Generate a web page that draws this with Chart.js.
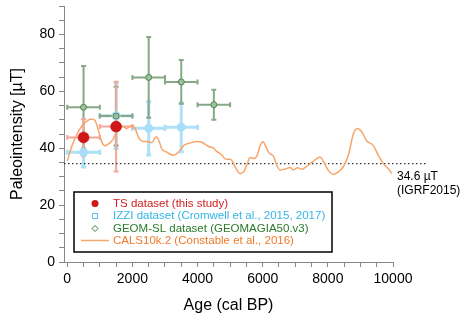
<!DOCTYPE html>
<html>
<head>
<meta charset="utf-8">
<script src="https://cdn.jsdelivr.net/npm/chart.js@4.4.1/dist/chart.umd.min.js"></script>
<style>
  html, body { margin: 0; padding: 0; background: #fff; }
  #wrap { width: 461px; height: 317px; position: relative; }
</style>
</head>
<body>
<div id="wrap"><canvas id="paleoChart"></canvas></div>
<script>
// --- data ---
var xTicksLabelled = [0, 2000, 4000, 6000, 8000, 10000];
var xMinorStep = 500;
var yTicksLabelled = [0, 20, 40, 60, 80];

// TS dataset (this study)
var tsAge = [500, 1500];
var tsF = [43.8, 47.6];
var tsAgeErr = [500, 500];
var tsFErr = [6.5, 15.8];

// IZZI dataset
var izziAge = [500, 1500, 2500, 3500];
var izziF = [38.6, 51.4, 47.0, 47.4];
var izziAgeErr = [500, 500, 500, 500];
var izziFErr = [5.2, 11.5, 9.4, 8.6];

// GEOM-SL dataset
var geomAge = [500, 1500, 2500, 3500, 4500];
var geomF = [54.4, 51.3, 64.9, 63.3, 55.3];
var geomAgeErr = [500, 500, 500, 500, 500];
var geomFErr = [14.5, 10.3, 14.2, 7.7, 5.3];

// CALS10k.2 model curve
var calsAge = [0, 150, 300, 450, 600, 750, 850, 950, 1050, 1150, 1300, 1430, 1530, 1650, 1750, 1830, 1910, 2010,
  2090, 2190, 2320, 2460, 2600, 2730, 2810, 2900, 3060, 3260, 3410, 3570, 3770, 3980, 4130, 4330, 4490, 4590,
  4740, 4870, 5000, 5080, 5180, 5300, 5410, 5510, 5610, 5720, 5820, 5920, 6010, 6100, 6200, 6330, 6430, 6530,
  6690, 6840, 6940, 7070, 7200, 7350, 7550, 7760, 7860, 8010, 8170, 8320, 8470, 8630, 8780, 8900, 9040, 9190,
  9400, 9550, 9700, 9850, 9960];
var calsF = [35.5, 41.0, 45.0, 47.8, 49.5, 50.3, 49.8, 46.5, 42.5, 40.9, 41.8, 43.6, 46.5, 47.8, 47.4, 46.9, 47.6, 48.0,
  46.7, 43.8, 42.4, 42.4, 42.0, 44.0, 42.8, 39.8, 38.6, 37.5, 38.6, 40.9, 41.8, 42.4, 42.1, 40.7, 40.0, 38.9,
  37.7, 36.1, 36.1, 35.2, 32.9, 31.1, 31.6, 34.0, 36.7, 36.4, 37.2, 40.9, 42.3, 40.5, 38.2, 37.2, 34.0, 32.3,
  32.7, 33.2, 32.4, 33.1, 32.6, 33.6, 35.4, 36.9, 35.4, 32.3, 30.8, 31.7, 33.4, 37.5, 44.9, 46.9, 45.8, 42.6,
  40.9, 37.5, 34.6, 32.9, 31.1];

// IGRF2015 reference value
var igrfValue = 34.6;
var igrfAge = [-100, 11050];

var legendLabels = [
  "TS dataset (this study)",
  "IZZI dataset (Cromwell et al., 2015, 2017)",
  "GEOM-SL dataset (GEOMAGIA50.v3)",
  "CALS10k.2 (Constable et al., 2016)"
];

var FONT = "'Liberation Sans', Arial, Helvetica, sans-serif";

function toPoints(xs, ys) {
  return xs.map(function (x, i) { return { x: x, y: ys[i] }; });
}

// error bars drawn under the markers
var errorBarsPlugin = {
  id: "errorBars",
  beforeDatasetsDraw: function (chart) {
    var ctx = chart.ctx;
    var xs = chart.scales.x, ys = chart.scales.y;
    var cap = 2.5;
    chart.data.datasets.slice().reverse().forEach(function (ds) {
      if (!ds.errAge) return;
      ctx.save();
      ctx.strokeStyle = ds.barColor;
      ctx.lineWidth = ds.barWidth;
      ds.data.forEach(function (p, i) {
        var x0 = xs.getPixelForValue(p.x - ds.errAge[i]);
        var x1 = xs.getPixelForValue(p.x + ds.errAge[i]);
        var y0 = ys.getPixelForValue(p.y - ds.errF[i]);
        var y1 = ys.getPixelForValue(p.y + ds.errF[i]);
        var px = xs.getPixelForValue(p.x), py = ys.getPixelForValue(p.y);
        ctx.beginPath();
        ctx.moveTo(x0, py); ctx.lineTo(x1, py);
        ctx.moveTo(x0, py - cap); ctx.lineTo(x0, py + cap);
        ctx.moveTo(x1, py - cap); ctx.lineTo(x1, py + cap);
        ctx.moveTo(px, y0); ctx.lineTo(px, y1);
        ctx.moveTo(px - cap, y0); ctx.lineTo(px + cap, y0);
        ctx.moveTo(px - cap, y1); ctx.lineTo(px + cap, y1);
        ctx.stroke();
      });
      ctx.restore();
    });
  }
};

// boxed legend + IGRF annotation
var annotatePlugin = {
  id: "annotate",
  afterDraw: function (chart) {
    var ctx = chart.ctx;
    var ys = chart.scales.y;
    ctx.save();

    // IGRF label on the right
    var ly = ys.getPixelForValue(igrfValue);
    ctx.fillStyle = "#000";
    ctx.font = "12px " + FONT;
    ctx.textBaseline = "middle";
    ctx.textAlign = "left";
    ctx.fillText("34.6 \u00b5T", 397, ly + 13);
    ctx.fillText("(IGRF2015)", 397, ly + 27);

    // legend box
    ctx.strokeStyle = "#000";
    ctx.lineWidth = 1.5;
    ctx.strokeRect(74, 192, 258, 60);

    var colors = ["#d02020", "#33b5e5", "#2a7a2a", "#f07a2a"];
    var rowY = [203.5, 216, 228.5, 240.5];
    ctx.font = "11.5px " + FONT;
    legendLabels.forEach(function (label, i) {
      ctx.fillStyle = colors[i];
      ctx.fillText(label, 113, rowY[i]);
    });

    // legend symbols
    ctx.fillStyle = "#d01818";
    ctx.beginPath(); ctx.arc(95, rowY[0], 3.5, 0, Math.PI * 2); ctx.fill();
    ctx.strokeStyle = "#5fc4ec"; ctx.lineWidth = 1;
    ctx.strokeRect(92.5, rowY[1] - 2.5, 5, 5);
    ctx.strokeStyle = "#3f7f3f";
    ctx.beginPath();
    ctx.moveTo(95, rowY[2] - 3); ctx.lineTo(98, rowY[2]); ctx.lineTo(95, rowY[2] + 3); ctx.lineTo(92, rowY[2]);
    ctx.closePath(); ctx.stroke();
    ctx.strokeStyle = "#f7a66a"; ctx.lineWidth = 1.5;
    ctx.beginPath(); ctx.moveTo(81, rowY[3]); ctx.lineTo(109, rowY[3]); ctx.stroke();

    ctx.restore();
  }
};

var chart = new Chart(document.getElementById("paleoChart"), {
  type: "scatter",
  data: {
    datasets: [
      {
        label: legendLabels[0],
        data: toPoints(tsAge, tsF),
        errAge: tsAgeErr, errF: tsFErr,
        barColor: "#f2a898", barWidth: 2,
        backgroundColor: "#d01818",
        borderColor: "#c01010",
        borderWidth: 0.5,
        pointRadius: 5.5
      },
      {
        label: legendLabels[2],
        data: toPoints(geomAge, geomF),
        errAge: geomAgeErr, errF: geomFErr,
        barColor: "#86a886", barWidth: 2,
        backgroundColor: "#9ec09e",
        borderColor: "#4f874f",
        borderWidth: 1,
        pointRadius: 3
      },
      {
        label: legendLabels[1],
        data: toPoints(izziAge, izziF),
        errAge: izziAgeErr, errF: izziFErr,
        barColor: "#aee0f6", barWidth: 3,
        backgroundColor: "#a8defa",
        borderColor: "#a8defa",
        borderWidth: 0,
        pointRadius: 4.5
      },
      {
        label: legendLabels[3],
        type: "line",
        data: toPoints(calsAge, calsF),
        borderColor: "#f7a66a",
        borderWidth: 1.5,
        pointRadius: 0,
        cubicInterpolationMode: "monotone",
        fill: false
      },
      {
        label: "IGRF2015",
        type: "line",
        data: igrfAge.map(function (a) { return { x: a, y: igrfValue }; }),
        borderColor: "#333",
        borderWidth: 1.3,
        borderDash: [1.5, 2.5],
        pointRadius: 0,
        clip: false,
        fill: false
      }
    ]
  },
  options: {
    responsive: true,
    maintainAspectRatio: false,
    animation: false,
    layout: { padding: { left: 0, right: 68, top: 1, bottom: 0 } },
    plugins: {
      legend: { display: false },
      tooltip: { enabled: false }
    },
    scales: {
      x: {
        type: "linear",
        min: -100,
        max: 10000,
        afterBuildTicks: function (s) {
          var t = [];
          for (var v = 0; v <= 10000; v += xMinorStep) t.push({ value: v });
          s.ticks = t;
        },
        afterFit: function (s) { s.height = 55; s.paddingLeft = 0; s.paddingRight = 0; },
        ticks: {
          autoSkip: false,
          maxRotation: 0,
          padding: 4,
          color: "#000",
          font: { family: FONT, size: 14 },
          callback: function (v) { return xTicksLabelled.indexOf(v) >= 0 ? String(v) : ""; }
        },
        grid: { drawOnChartArea: false, tickLength: 5, color: "#888" },
        border: { color: "#888", width: 1 },
        title: {
          display: true,
          text: "Age (cal BP)",
          color: "#000",
          font: { family: FONT, size: 16 },
          padding: { top: 0, bottom: 2 }
        }
      },
      y: {
        min: 0,
        max: 90,
        afterFit: function (s) { s.width = 64; s.paddingTop = 0; s.paddingBottom = 0; },
        ticks: {
          stepSize: 5,
          autoSkip: false,
          padding: 4,
          color: "#000",
          font: { family: FONT, size: 14 },
          callback: function (v) { return yTicksLabelled.indexOf(v) >= 0 ? String(v) : ""; }
        },
        grid: { drawOnChartArea: false, tickLength: 5, color: "#888" },
        border: { color: "#888", width: 1 },
        title: {
          display: true,
          text: "Paleointensity [\u00b5T]",
          color: "#000",
          font: { family: FONT, size: 16 },
          padding: { top: 8, bottom: 0 }
        }
      }
    }
  },
  plugins: [errorBarsPlugin, annotatePlugin]
});
</script>
</body>
</html>
